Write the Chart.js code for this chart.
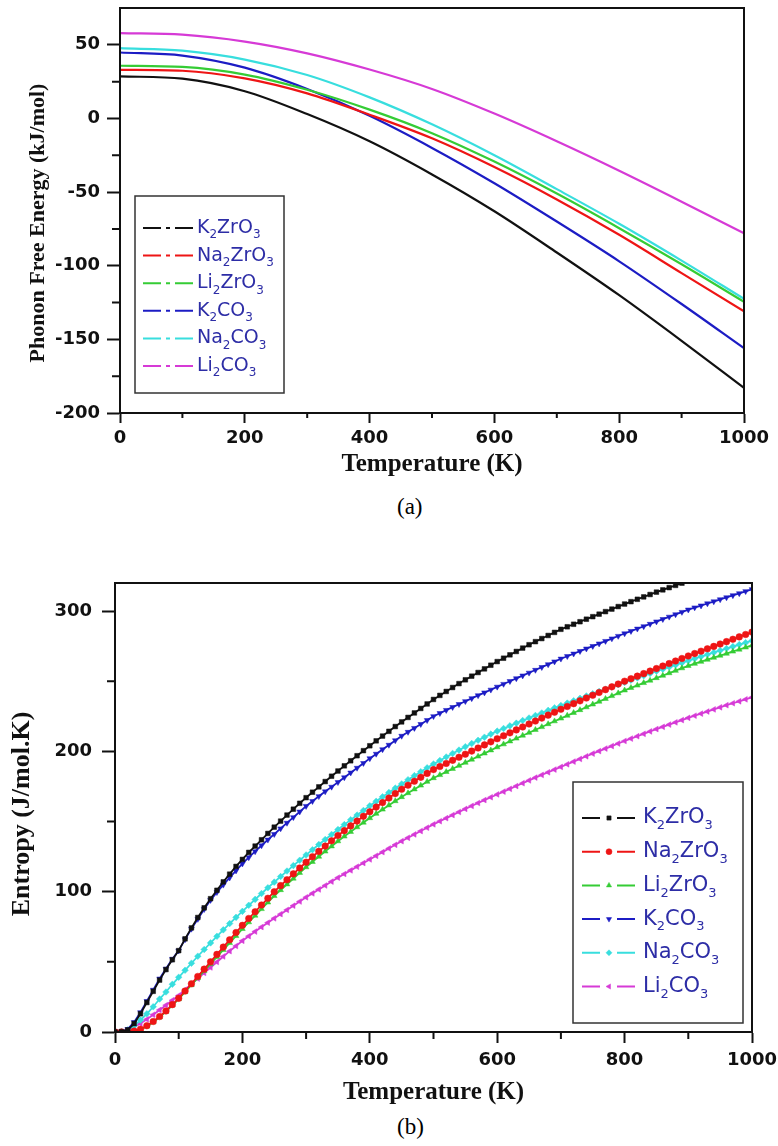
<!DOCTYPE html>
<html><head><meta charset="utf-8">
<script src="https://cdn.jsdelivr.net/npm/chart.js@4/dist/chart.umd.min.js"></script>
<style>
html,body{margin:0;padding:0;background:#fff;}
body{width:778px;height:1146px;position:relative;overflow:hidden;}
#wrapA{position:absolute;left:0;top:0;width:778px;height:490px;}
#wrapB{position:absolute;left:0;top:540px;width:778px;height:570px;}
.cap{position:absolute;font-family:'Liberation Serif','Times New Roman',serif;font-size:23px;color:#000;line-height:26px;}
</style></head><body>
<div id="wrapA"><canvas id="chartA"></canvas></div>
<div id="wrapB"><canvas id="chartB"></canvas></div>
<div class="cap" style="left:397px;top:494px;">(a)</div>
<div class="cap" style="left:397px;top:1114px;">(b)</div>
<script>
// ---------- categories / labels ----------
const seriesNames = ['K2ZrO3','Na2ZrO3','Li2ZrO3','K2CO3','Na2CO3','Li2CO3'];

// ---------- (a) phonon free energy (kJ/mol) ----------
const tempsA = [0,100,200,300,400,500,600,700,800,900,1000];
const feK2ZrO3  = [28.6, 27.0, 18.5, 3.0, -15.5, -38.0, -63.0, -91.0, -120.0, -151.0, -183.0];
const feNa2ZrO3 = [33.0, 32.4, 27.2, 17.0, 2.5, -13.5, -33.0, -55.0, -79.0, -105.0, -131.0];
const feLi2ZrO3 = [35.8, 35.0, 29.8, 19.5, 6.0, -10.0, -29.3, -51.0, -74.5, -99.0, -124.5];
const feK2CO3   = [44.8, 42.7, 34.5, 20.0, 1.8, -20.0, -44.0, -70.0, -97.0, -126.0, -156.0];
const feNa2CO3  = [47.7, 46.0, 40.0, 29.5, 14.3, -4.0, -25.0, -48.0, -71.5, -96.5, -122.5];
const feLi2CO3  = [57.9, 56.9, 52.2, 44.2, 33.2, 20.0, 3.3, -15.5, -35.5, -56.5, -78.0];

// ---------- (b) entropy (J/mol.K) ----------
const tempsB = [0,10,20,30,40,50,60,70,80,90,100,110,120,130,140,150,160,170,180,190,200,
210,220,230,240,250,260,270,280,290,300,310,320,330,340,350,360,370,380,390,400,
410,420,430,440,450,460,470,480,490,500,510,520,530,540,550,560,570,580,590,600,
610,620,630,640,650,660,670,680,690,700,710,720,730,740,750,760,770,780,790,800,
810,820,830,840,850,860,870,880,890,900,910,920,930,940,950,960,970,980,990,1000];
const sK2ZrO3 = [0,0.2,1.5,6,13,21,29,37,44.5,51.5,58,66.4,74.2,81.6,88.5,95,101,107,112.5,118,123,
128,132.5,137,141.5,146,150.3,154.6,158.8,163,167,170.9,174.7,178.5,182.3,186,189.7,193.3,196.9,200.5,204,
207.5,210.9,214.3,217.7,221,224.2,227.4,230.6,233.8,237,239.9,242.7,245.5,248.3,251,253.6,256.2,258.8,261.4,264,
266.4,268.8,271.2,273.6,276,278.2,280.4,282.6,284.8,287,288.8,290.6,292.4,294.2,296,297.8,299.6,301.4,303.2,305,
306.7,308.4,310.1,311.8,313.5,315.1,316.7,318.3,319.9,321.5,323,324.5,326,327.5,329,330.4,331.8,333.2,334.6,336];
const sNa2ZrO3 = [0,0,0.1,0.6,2,4.5,7.5,11,15,19.5,24,29.2,34.4,39.6,44.8,50,55.3,60.5,65.7,70.9,76,
80.9,85.7,90.5,95.3,100,104.3,108.5,112.7,116.9,121,124.9,128.7,132.5,136.3,140,143.5,146.9,150.3,153.7,157,
160.3,163.5,166.7,169.9,173,175.9,178.7,181.5,184.3,187,189.2,191.4,193.6,195.8,198,200.2,202.4,204.6,206.8,209,
211.1,213.2,215.3,217.4,219.5,221.6,223.7,225.8,227.9,230,232,234,236,238,240,242,244,246,248,250,
251.8,253.6,255.4,257.2,259,260.8,262.6,264.4,266.2,268,269.7,271.4,273.1,274.8,276.5,278.2,279.9,281.6,283.3,285];
const sLi2ZrO3 = [0,0,0.1,0.5,1.8,4,7,10.5,14.5,19,23.5,28.5,33.5,38.5,43.5,48.5,53.5,58.5,63.5,68.5,73.5,
78.3,83,87.7,92.4,97,101.2,105.3,109.4,113.5,117.5,121.3,125,128.7,132.4,136,139.4,142.7,146,149.3,152.5,
155.6,158.6,161.6,164.6,167.5,170.3,173,175.7,178.4,181,183.2,185.4,187.6,189.8,192,194.2,196.4,198.6,200.8,203,
205.1,207.2,209.2,211.3,213.3,215.4,217.4,219.5,221.5,223.5,225.5,227.5,229.5,231.5,233.5,235.5,237.5,239.5,241.5,243.5,
245.3,247,248.8,250.5,252.3,254,255.8,257.5,259.3,261,262.5,263.9,265.4,266.8,268.3,269.7,271.2,272.6,274.1,275.5];
const sK2CO3 = [0,0.3,2,7,14,22,30,38,45,52,58,66,73.5,80.5,87.5,94,99.6,104.9,110,115,120,
124.4,128.7,132.9,137,141,145,149,153,157,161,164.5,168,171.4,174.7,178,181.4,184.8,188.2,191.6,195,
198.2,201.4,204.6,207.8,211,213.8,216.6,219.4,222.2,225,227.2,229.4,231.5,233.6,235.7,237.8,239.9,241.9,243.9,246,
248,250,252,254,256,258,260,262,264,266,267.8,269.6,271.4,273.2,275,276.8,278.6,280.4,282.2,284,
285.7,287.4,289.1,290.8,292.5,294.2,295.9,297.6,299.3,301,302.5,303.9,305.4,306.8,308.3,309.7,311.2,312.6,314.1,315.5];
const sNa2CO3 = [0,0.2,1.5,4.5,8.5,13,18,23.5,28.5,34,39,44,49,54,58.8,63.5,68.2,72.8,77.3,81.7,86,
90.3,94.5,98.7,102.8,106.8,110.8,114.7,118.6,122.4,126.2,129.9,133.6,137.2,140.8,144.3,147.8,151.2,154.6,157.9,161.2,
164.4,167.6,170.7,173.8,176.8,179.8,182.7,185.5,188.3,191,193.5,196,198.5,200.9,203.3,205.6,207.9,210.1,212.3,214.4,
216.3,218.2,220.1,222,223.8,225.6,227.4,229.2,231,232.7,234.4,236.1,237.8,239.5,241.1,242.7,244.3,245.9,247.5,249.1,
250.7,252.3,253.9,255.5,257.1,258.6,260.1,261.6,263.1,264.6,266.1,267.6,269,270.5,271.9,273.3,274.7,276.1,277.5,278.9];
const sLi2CO3 = [0,0.3,1.5,3.5,6,9,12.3,15.7,19.1,22.6,26,30.1,34.1,38.1,42.1,46,49.9,53.8,57.6,61.3,65,
68.3,71.6,74.8,77.9,81,84,87,90,93,96,98.8,101.6,104.4,107.2,110,112.6,115.2,117.8,120.4,123,
125.6,128.2,130.8,133.4,136,138.4,140.8,143.2,145.6,148,150.2,152.4,154.6,156.8,159,161.1,163.2,165.3,167.3,169.3,
171.3,173.3,175.3,177.3,179.3,181.3,183.2,185.1,187,188.9,190.8,192.7,194.6,196.5,198.4,200.2,202,203.8,205.6,207.4,
209.1,210.8,212.5,214.2,215.9,217.5,219.1,220.7,222.3,223.9,225.4,226.9,228.4,229.9,231.4,232.9,234.3,235.7,237.1,238.5];

// ---------- ticks ----------
const xTicks = [0,200,400,600,800,1000];
const xMinorTicks = [100,300,500,700,900];
const yTicksA = [-200,-150,-100,-50,0,50];
const yMinorA = [-175,-125,-75,-25,25];
const yTicksB = [0,100,200,300];
const yMinorB = [50,150,250];

// ---------- styles ----------
const colors = ['#111111','#ee1515','#35cc35','#1c1cc4','#38dede','#d63ad6'];
const markerStyles = ['rect','circle','triangle','triangle','rectRot','triangle'];
const markerRot = [0,0,0,180,0,-90];
const legendTextColor = '#2d2da6';

function drawSubText(ctx, text, x, y, size, color){
  ctx.fillStyle = color; ctx.textBaseline = 'middle'; ctx.textAlign = 'left';
  for (const ch of text){
    if (/[0-9]/.test(ch)){
      ctx.font = Math.round(size*0.64) + 'px "DejaVu Sans"';
      ctx.fillText(ch, x, y + size*0.38);
    } else {
      ctx.font = size + 'px "DejaVu Sans"';
      ctx.fillText(ch, x, y);
    }
    x += ctx.measureText(ch).width;
  }
}

const extrasPlugin = {
  id: 'extras',
  afterDraw(chart, args, o){
    const {ctx, chartArea:a, scales:{x, y}} = chart;
    ctx.save();
    ctx.strokeStyle = '#111'; ctx.lineWidth = 2;
    ctx.strokeRect(a.left, a.top, a.right - a.left, a.bottom - a.top);
    ctx.beginPath();
    o.xMinor.forEach(v => { const px = x.getPixelForValue(v); ctx.moveTo(px, a.bottom); ctx.lineTo(px, a.bottom + o.xMinorLen); });
    o.yMinor.forEach(v => { const py = y.getPixelForValue(v); ctx.moveTo(a.left, py); ctx.lineTo(a.left - o.yMinorLen, py); });
    ctx.stroke();
    ctx.save();
    ctx.translate(o.yTitle.x, o.yTitle.y); ctx.rotate(-Math.PI/2);
    ctx.font = 'bold ' + o.yTitle.size + 'px "Liberation Serif"';
    ctx.fillStyle = '#111'; ctx.textAlign = 'center'; ctx.textBaseline = 'middle';
    ctx.fillText(o.yTitle.text, 0, 0);
    ctx.restore();
    const L = o.legend;
    ctx.strokeStyle = '#333'; ctx.lineWidth = 1.5;
    ctx.strokeRect(L.x, L.y, L.w, L.h);
    chart.data.datasets.forEach((ds, i) => {
      const cy = L.firstY + i*L.step;
      ctx.strokeStyle = ds.borderColor; ctx.lineWidth = 2;
      ctx.beginPath();
      ctx.moveTo(L.sx0, cy); ctx.lineTo(L.sx0 + L.dash, cy);
      ctx.moveTo(L.sx1 - L.dash, cy); ctx.lineTo(L.sx1, cy);
      if (!L.markers){ ctx.moveTo(L.mid - 2, cy); ctx.lineTo(L.mid + 2, cy); }
      ctx.stroke();
      if (L.markers){
        ctx.fillStyle = ds.pointBackgroundColor; ctx.strokeStyle = ds.pointBorderColor; ctx.lineWidth = 0.5;
        Chart.helpers.drawPoint(ctx, {pointStyle: ds.pointStyle, rotation: ds.pointRotation, radius: 3, borderWidth: 0.5}, L.mid, cy);
      }
      drawSubText(ctx, ds.label, L.tx, cy, L.font, legendTextColor);
    });
    ctx.restore();
  }
};

const tickFont = {family: '"DejaVu Sans"', weight: 'bold', size: 18};
const titleFont = {family: '"Liberation Serif"', weight: 'bold', size: 25};

function scalesCfg(o){
  return {
    x: {
      type: 'linear', min: 0, max: 1000,
      afterBuildTicks: s => { s.ticks = xTicks.map(v => ({value: v})); },
      afterFit: s => { s.height = o.xHeight; s.paddingLeft = 0; s.paddingRight = 0; },
      ticks: {font: tickFont, color: '#111', padding: o.xPad, maxRotation: 0, callback: v => String(v)},
      grid: {display: true, drawOnChartArea: false, drawTicks: true, tickLength: o.xTickLen, tickWidth: 2, color: '#111', tickColor: '#111'},
      border: {display: true, width: 2, color: '#111'},
      title: {display: true, text: 'Temperature (K)', font: titleFont, color: '#111', padding: {top: 0, bottom: o.xTitlePad}}
    },
    y: {
      type: 'linear', min: o.yMin, max: o.yMax,
      afterBuildTicks: s => { s.ticks = o.yTicks.map(v => ({value: v})); },
      afterFit: s => { s.width = o.yWidth; s.paddingTop = 0; s.paddingBottom = 0; },
      ticks: {font: tickFont, color: '#111', padding: o.yPad, callback: v => String(v)},
      grid: {display: true, drawOnChartArea: false, drawTicks: true, tickLength: 13, tickWidth: 2, color: '#111', tickColor: '#111'},
      border: {display: true, width: 2, color: '#111'}
    }
  };
}

// ---------- chart (a) ----------
const feSeries = [feK2ZrO3, feNa2ZrO3, feLi2ZrO3, feK2CO3, feNa2CO3, feLi2CO3];
new Chart(document.getElementById('chartA'), {
  type: 'line',
  data: {
    datasets: feSeries.map((vals, i) => ({
      label: seriesNames[i],
      data: vals.map((v, j) => ({x: tempsA[j], y: v})),
      borderColor: colors[i], borderWidth: 2.2, pointRadius: 0, fill: false,
      cubicInterpolationMode: 'monotone'
    }))
  },
  options: {
    responsive: true, maintainAspectRatio: false, animation: false, devicePixelRatio: 1,
    layout: {padding: {left: 0, top: 8, right: 34, bottom: 0}},
    plugins: {
      legend: {display: false}, tooltip: {enabled: false},
      extras: {
        xMinor: xMinorTicks, yMinor: yMinorA, xMinorLen: 5, yMinorLen: 8,
        yTitle: {text: 'Phonon Free Energy (kJ/mol)', x: 38, y: 223, size: 22},
        legend: {x: 135, y: 196, w: 149, h: 197, firstY: 228, step: 27.6, sx0: 143, sx1: 193, dash: 18, mid: 168, tx: 197, font: 19, markers: false}
      }
    },
    scales: scalesCfg({xHeight: 77, xPad: 5, xTickLen: 10, xTitlePad: 10, yMin: -200, yMax: 75, yTicks: yTicksA, yWidth: 120, yPad: 7})
  },
  plugins: [extrasPlugin]
});

// ---------- chart (b) ----------
const sSeries = [sK2ZrO3, sNa2ZrO3, sLi2ZrO3, sK2CO3, sNa2CO3, sLi2CO3];
new Chart(document.getElementById('chartB'), {
  type: 'line',
  data: {
    datasets: sSeries.map((vals, i) => ({
      label: seriesNames[i],
      data: vals.map((v, j) => ({x: tempsB[j], y: v})),
      borderColor: colors[i], borderWidth: 1.8, fill: false,
      pointStyle: markerStyles[i], pointRotation: markerRot[i], pointRadius: 3.3,
      pointBackgroundColor: colors[i], pointBorderColor: colors[i], pointBorderWidth: 0.5
    }))
  },
  options: {
    responsive: true, maintainAspectRatio: false, animation: false, devicePixelRatio: 1,
    layout: {padding: {left: 0, top: 43, right: 26, bottom: 0}},
    plugins: {
      legend: {display: false}, tooltip: {enabled: false},
      extras: {
        xMinor: xMinorTicks, yMinor: yMinorB, xMinorLen: 7, yMinorLen: 8,
        yTitle: {text: 'Entropy (J/mol.K)', x: 22, y: 274, size: 26},
        legend: {x: 573, y: 242, w: 170, h: 241, firstY: 278, step: 33.7, sx0: 582, sx1: 635, dash: 18, mid: 609, tx: 643, font: 21, markers: true}
      }
    },
    scales: scalesCfg({xHeight: 78, xPad: 7, xTickLen: 11, xTitlePad: 2, yMin: 0, yMax: 320, yTicks: yTicksB, yWidth: 115, yPad: 10})
  },
  plugins: [extrasPlugin]
});
</script>
</body></html>
